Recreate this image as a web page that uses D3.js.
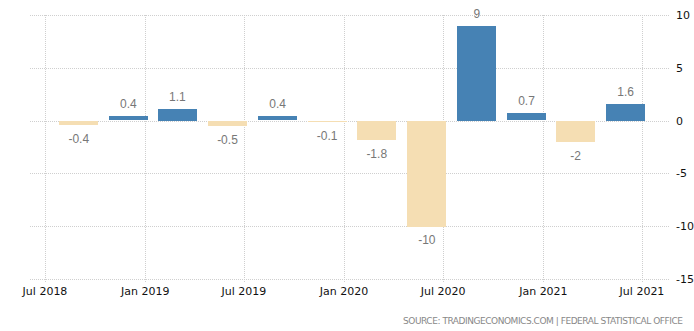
<!DOCTYPE html>
<html>
<head>
<meta charset="utf-8">
<script src="https://cdn.jsdelivr.net/npm/d3@7"></script>
<style>
  body { margin: 0; background: #fff; }
  svg { display: block; }
</style>
</head>
<body>
<div id="chart"></div>
<script>
// Quarterly growth figures, one bar per quarter
const quarters = [
  "2018-09-01", "2018-12-01", "2019-03-01", "2019-06-01",
  "2019-09-01", "2019-12-01", "2020-03-01", "2020-06-01",
  "2020-09-01", "2020-12-01", "2021-03-01", "2021-06-01"
];
const values = [-0.4, 0.4, 1.1, -0.5, 0.4, -0.1, -1.8, -10, 9, 0.7, -2, 1.6];
const xTicks = ["2018-07-01", "2019-01-01", "2019-07-01", "2020-01-01", "2020-07-01", "2021-01-01", "2021-07-01"];
const yTicks = [10, 5, 0, -5, -10, -15];

const width = 694;
const height = 331;
const parse = d3.timeParse("%Y-%m-%d");
const data = quarters.map((q, i) => ({ date: parse(q), value: values[i] }));

const svg = d3
  .select("#chart")
  .append("svg")
  .attr("width", width)
  .attr("height", height);

const x = d3
  .scaleTime()
  .domain([parse("2018-07-01"), parse("2021-07-01")])
  .range([45, 642]);

const y = d3.scaleLinear().domain([-15, 10]).range([279, 15]);

const gridLeft = 30;
const gridRight = 670;
const barWidth = 39;

const grid = svg.append("g").attr("stroke", "#cfcfcf").attr("stroke-dasharray", "1,1");

// Horizontal grid
grid
  .selectAll(".hgrid")
  .data(yTicks)
  .enter()
  .append("line")
  .attr("x1", gridLeft)
  .attr("x2", gridRight)
  .attr("y1", (d) => Math.round(y(d)) + 0.5)
  .attr("y2", (d) => Math.round(y(d)) + 0.5);

// Vertical grid
grid
  .selectAll(".vgrid")
  .data(xTicks)
  .enter()
  .append("line")
  .attr("x1", (d) => Math.round(x(parse(d))) + 0.5)
  .attr("x2", (d) => Math.round(x(parse(d))) + 0.5)
  .attr("y1", y(10))
  .attr("y2", y(-15) + 4);

// Bars
svg
  .selectAll(".bar")
  .data(data)
  .enter()
  .append("rect")
  .attr("class", "bar")
  .attr("x", (d) => Math.round(x(d.date) - barWidth / 2))
  .attr("width", barWidth)
  .attr("y", (d) => Math.round(y(Math.max(0, d.value))))
  .attr("height", (d) => Math.max(1, Math.round(Math.abs(y(d.value) - y(0)))))
  .attr("fill", (d) => (d.value >= 0 ? "#4682b4" : "#f5deb3"));

// Value labels
svg
  .selectAll(".label")
  .data(data)
  .enter()
  .append("text")
  .attr("x", (d) => x(d.date))
  .attr("y", (d) => (d.value >= 0 ? y(d.value) - 8 : y(Math.min(d.value, 0)) + 18))
  .attr("text-anchor", "middle")
  .attr("font-family", "Liberation Sans, Arial, sans-serif")
  .attr("font-size", 12)
  .attr("fill", "#777")
  .text((d) => d.value);

// X axis labels
svg
  .selectAll(".xlabel")
  .data(xTicks)
  .enter()
  .append("text")
  .attr("x", (d) => x(parse(d)))
  .attr("y", 295)
  .attr("text-anchor", "middle")
  .attr("font-family", "DejaVu Sans, sans-serif")
  .attr("font-size", 11)
  .attr("fill", "#111")
  .text((d) => d3.timeFormat("%b %Y")(parse(d)));

// Y axis labels on the right
svg
  .selectAll(".ylabel")
  .data(yTicks)
  .enter()
  .append("text")
  .attr("x", 676)
  .attr("y", (d) => y(d) + 4)
  .attr("font-family", "DejaVu Sans, sans-serif")
  .attr("font-size", 11)
  .attr("fill", "#111")
  .text((d) => d);

svg
  .append("text")
  .attr("x", 683)
  .attr("y", 324)
  .attr("text-anchor", "end")
  .attr("font-family", "DejaVu Sans, sans-serif")
  .attr("font-size", 9)
  .attr("fill", "#888")
  .attr("textLength", 280)
  .text("SOURCE: TRADINGECONOMICS.COM  |  FEDERAL STATISTICAL OFFICE");
</script>
</body>
</html>
